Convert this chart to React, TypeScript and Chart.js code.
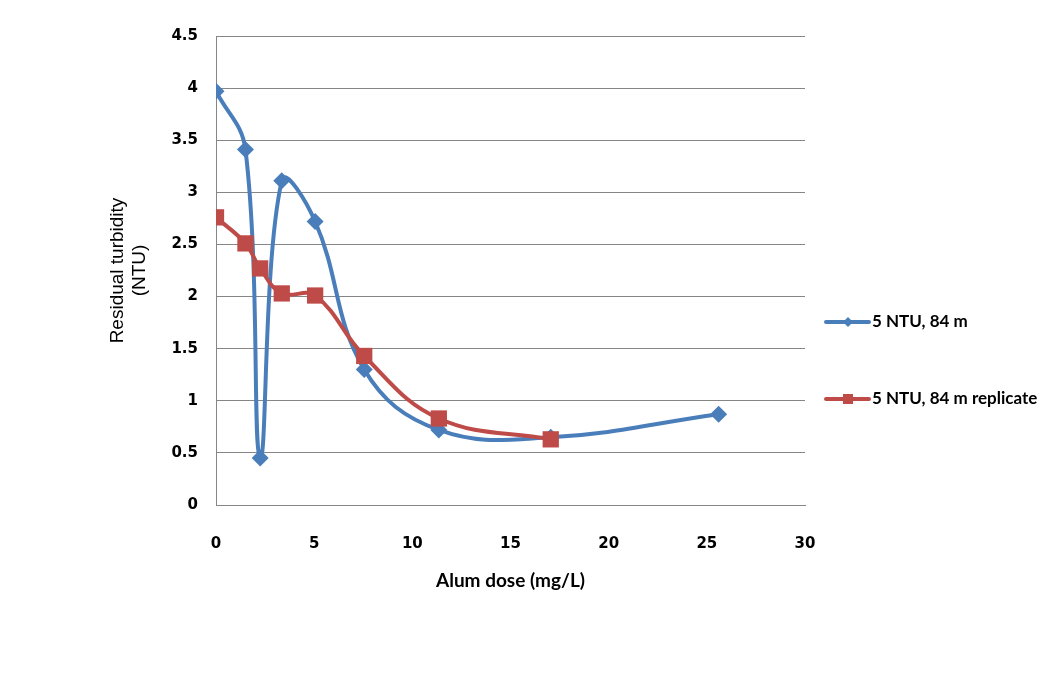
import React, { useEffect, useRef } from "react";
import { Chart, registerables } from "chart.js";

Chart.register(...registerables);

// Alum dose (mg/L)
const doseA = [0, 1.5, 2.25, 3.35, 5.05, 7.55, 11.35, 17.05, 25.6];
const turbidityA = [3.97, 3.41, 0.45, 3.11, 2.72, 1.3, 0.72, 0.65, 0.87];

const doseB = [0, 1.5, 2.25, 3.35, 5.05, 7.55, 11.35, 17.05];
const turbidityB = [2.76, 2.51, 2.27, 2.03, 2.01, 1.43, 0.83, 0.63];

const seriesNames = ["5 NTU, 84 m", "5 NTU, 84 m replicate"];
const seriesColors = ["#4A7EBB", "#BE4B48"];
const yTicks = [0, 0.5, 1, 1.5, 2, 2.5, 3, 3.5, 4, 4.5];

const tickFont = {
  family: "'DejaVu Sans', sans-serif",
  weight: "bold" as const,
  size: 15,
};

const toPoints = (xs: number[], ys: number[]) =>
  xs.map((x, i) => ({ x, y: ys[i] }));

// legend drawn beside the plot, like the Excel original
const sideLegend = {
  id: "sideLegend",
  afterDraw(chart: Chart) {
    const { ctx, chartArea } = chart;
    const rowOffsets = [286, 363];
    ctx.save();
    chart.data.datasets.forEach((ds: any, i: number) => {
      const y = chartArea.top + rowOffsets[i];
      const x0 = chartArea.right + 21;
      const color = seriesColors[i];
      ctx.strokeStyle = color;
      ctx.lineWidth = 4;
      ctx.lineCap = "round";
      ctx.beginPath();
      ctx.moveTo(x0, y);
      ctx.lineTo(x0 + 43, y);
      ctx.stroke();
      ctx.fillStyle = color;
      const cx = x0 + 22;
      ctx.beginPath();
      if (ds.pointStyle === "rectRot") {
        ctx.moveTo(cx, y - 5);
        ctx.lineTo(cx + 5, y);
        ctx.lineTo(cx, y + 5);
        ctx.lineTo(cx - 5, y);
        ctx.closePath();
      } else {
        ctx.rect(cx - 5, y - 5, 10, 10);
      }
      ctx.fill();
      ctx.fillStyle = "#000";
      ctx.font = "bold 17px Lato";
      ctx.textBaseline = "middle";
      ctx.textAlign = "left";
      ctx.fillText(ds.label, x0 + 46, y);
    });
    ctx.restore();
  },
};

export default function App() {
  const canvasRef = useRef<HTMLCanvasElement>(null);

  useEffect(() => {
    if (!canvasRef.current) return;
    const chart = new Chart(canvasRef.current, {
      type: "scatter",
      data: {
        datasets: [
          {
            label: seriesNames[0],
            data: toPoints(doseA, turbidityA),
            showLine: true,
            borderColor: seriesColors[0],
            backgroundColor: seriesColors[0],
            borderWidth: 4,
            tension: 0.4,
            pointStyle: "rectRot",
            pointRadius: 8.5,
            pointBorderWidth: 0,
            order: 1,
          },
          {
            label: seriesNames[1],
            data: toPoints(doseB, turbidityB),
            showLine: true,
            borderColor: seriesColors[1],
            backgroundColor: seriesColors[1],
            borderWidth: 4,
            tension: 0.4,
            pointStyle: "rect",
            pointRadius: 11.5,
            pointBorderWidth: 0,
            order: 0,
          },
        ],
      },
      options: {
        responsive: false,
        animation: false,
        layout: { padding: { top: 36, right: 247, left: 0, bottom: 0 } },
        plugins: {
          legend: { display: false },
          tooltip: { enabled: false },
        },
        scales: {
          x: {
            type: "linear",
            min: 0,
            max: 30,
            grid: { display: false },
            border: { display: true, color: "#868686", width: 1 },
            ticks: {
              stepSize: 5,
              padding: 22,
              color: "#000",
              font: tickFont,
            },
            title: {
              display: true,
              text: "Alum dose (mg/L)",
              color: "#000",
              font: { family: "Lato", weight: "bold", size: 19 },
              padding: { top: 0, bottom: 85 },
            },
            afterFit: (scale: any) => {
              scale.height = 172;
            },
          },
          y: {
            min: 0,
            max: 4.5,
            grid: { color: "#868686", lineWidth: 1, drawTicks: false },
            border: { display: true, color: "#868686", width: 1 },
            afterBuildTicks: (scale: any) => {
              scale.ticks = yTicks.map((v) => ({ value: v }));
            },
            ticks: {
              padding: 18,
              color: "#000",
              font: tickFont,
              callback: (v: any) => String(v),
            },
            title: {
              display: true,
              text: ["Residual turbidity", "(NTU)"],
              color: "#000",
              font: { family: "Liberation Sans", size: 19, lineHeight: 1.16 },
              padding: { top: 107, bottom: 0 },
            },
            afterFit: (scale: any) => {
              scale.width = 216;
            },
          },
        },
      },
      plugins: [sideLegend],
    });
    return () => chart.destroy();
  }, []);

  return (
    <div
      style={{
        position: "fixed",
        left: 0,
        top: 0,
        width: 1052,
        height: 677,
        background: "#fff",
      }}
    >
      <canvas ref={canvasRef} width={1052} height={677} />
    </div>
  );
}
